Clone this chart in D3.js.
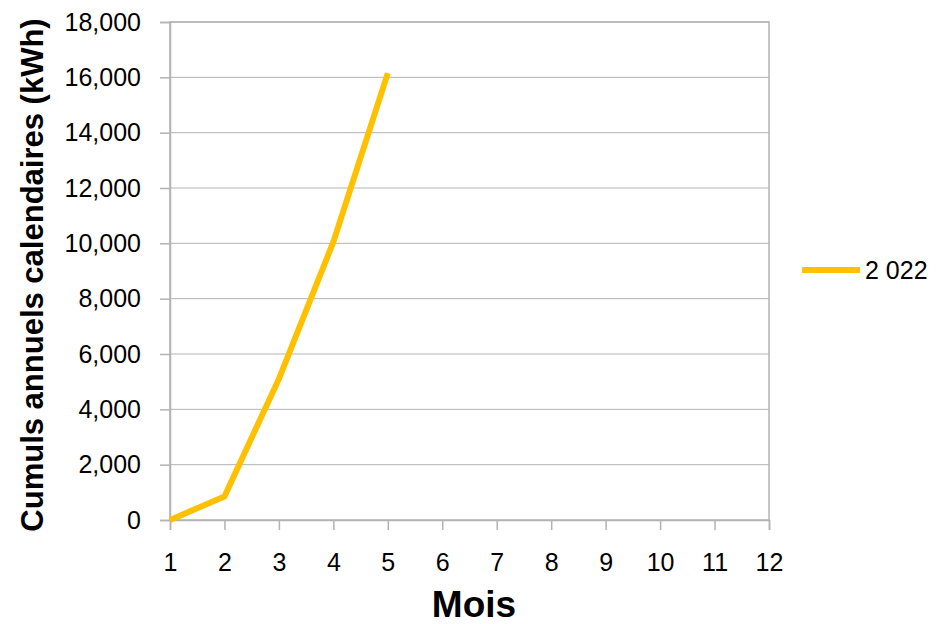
<!DOCTYPE html>
<html>
<head>
<meta charset="utf-8">
<script src="https://cdn.jsdelivr.net/npm/d3@7"></script>
<style>
  body { margin: 0; background: #fff; }
  text { font-family: "Liberation Sans", Arial, sans-serif; fill: #000; }
</style>
</head>
<body>
<svg id="chart" width="936" height="624"></svg>
<script>
// values
var mois = [1, 2, 3, 4, 5, 6, 7, 8, 9, 10, 11, 12];
var cumul2022 = [0, 850, 5100, 10050, 16150];
var serieNom = "2 022";
var yTicks = [0, 2000, 4000, 6000, 8000, 10000, 12000, 14000, 16000, 18000];

(function() {
  var svg = d3.select("#chart");
  var pLeft = 170, pRight = 769, pTop = 22, pBottom = 520;

  var x = d3.scalePoint().domain(mois).range([pLeft, pRight]);
  var y = d3.scaleLinear().domain([0, 18000]).range([pBottom, pTop]);

  // gridlines
  svg.append("g").selectAll("line")
    .data(yTicks.slice(1))
    .enter().append("line")
    .attr("x1", pLeft).attr("x2", pRight)
    .attr("y1", function(d) { return y(d); })
    .attr("y2", function(d) { return y(d); })
    .attr("stroke", "#b3b3b3").attr("stroke-width", 1);

  // plot border
  svg.append("rect")
    .attr("x", pLeft).attr("y", pTop)
    .attr("width", pRight - pLeft).attr("height", pBottom - pTop)
    .attr("fill", "none").attr("stroke", "#b3b3b3").attr("stroke-width", 1.5);

  var fmt = d3.format(",");

  var yAxis = svg.append("g")
    .attr("transform", "translate(" + pLeft + ",0)")
    .call(d3.axisLeft(y).tickValues(yTicks).tickFormat(fmt).tickSize(10).tickPadding(19));
  yAxis.select(".domain").attr("stroke", "#b3b3b3").attr("stroke-width", 1.5);
  yAxis.selectAll(".tick line").attr("stroke", "#b3b3b3").attr("stroke-width", 1.5);
  yAxis.selectAll("text").style("font-size", "25px").style("font-family", "Liberation Sans, Arial, sans-serif");

  var xAxis = svg.append("g")
    .attr("transform", "translate(0," + pBottom + ")")
    .call(d3.axisBottom(x).tickSize(10).tickPadding(23));
  xAxis.select(".domain").attr("stroke", "#b3b3b3").attr("stroke-width", 1.5);
  xAxis.selectAll(".tick line").attr("stroke", "#b3b3b3").attr("stroke-width", 1.5);
  xAxis.selectAll("text").style("font-size", "25px").style("font-family", "Liberation Sans, Arial, sans-serif");

  // series line
  var line = d3.line()
    .x(function(d, i) { return x(mois[i]); })
    .y(function(d) { return y(d); });

  svg.append("path")
    .datum(cumul2022)
    .attr("d", line)
    .attr("fill", "none")
    .attr("stroke", "#ffc000")
    .attr("stroke-width", 6)
    .attr("stroke-linejoin", "round");

  // axis titles
  svg.append("text")
    .attr("x", 474).attr("y", 617)
    .attr("text-anchor", "middle")
    .style("font-size", "37px").style("font-weight", "bold")
    .text("Mois");

  svg.append("text")
    .attr("transform", "translate(43,275) rotate(-90)")
    .attr("text-anchor", "middle")
    .style("font-size", "31px").style("font-weight", "bold")
    .text("Cumuls annuels calendaires (kWh)");

  // legend
  var legend = svg.append("g").attr("transform", "translate(802,270)");
  legend.append("line")
    .attr("x1", 0).attr("x2", 58).attr("y1", 0).attr("y2", 0)
    .attr("stroke", "#ffc000").attr("stroke-width", 6);
  legend.append("text")
    .attr("x", 63).attr("y", 9)
    .style("font-size", "25px")
    .text(serieNom);
})();
</script>
</body>
</html>
